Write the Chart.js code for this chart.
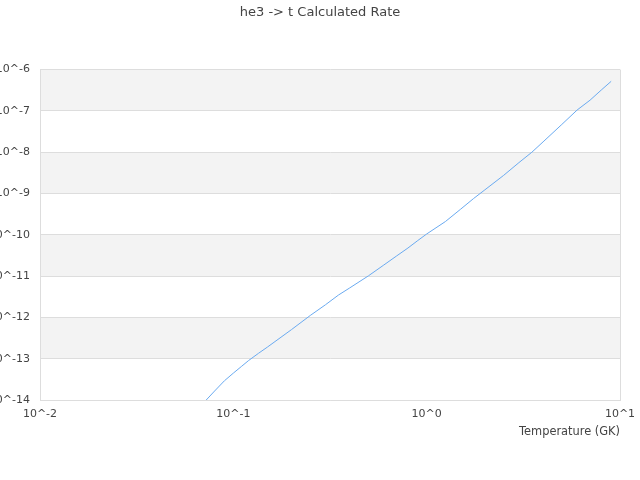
<!DOCTYPE html>
<html>
<head>
<meta charset="utf-8">
<script src="https://cdn.jsdelivr.net/npm/chart.js@4"></script>
<style>
  html, body { margin: 0; padding: 0; background: #fff; }
  #wrap { width: 640px; height: 480px; }
</style>
</head>
<body>
<div id="wrap"><canvas id="rateChart"></canvas></div>
<script>
// temperature (GK) and calculated rate
const temps = [0.06, 0.07, 0.08, 0.09, 0.1, 0.11, 0.12, 0.135, 0.15, 0.2, 0.25, 0.3, 0.35, 0.4,
  0.5, 0.6, 0.7, 0.8, 0.9, 1.0, 1.25, 1.5, 1.75, 2, 2.5, 3, 3.5, 4, 5, 6, 7, 8, 9];
const rates = [3.7e-15, 8.5e-15, 1.66e-14, 2.95e-14, 4.5e-14, 6.5e-14, 9.1e-14, 1.36e-13, 1.92e-13, 5.1e-13,
  1.12e-12, 2.04e-12, 3.5e-12, 5.2e-12, 1.02e-11, 1.86e-11, 3.1e-11, 4.8e-11, 7.3e-11,
  1.05e-10, 2.1e-10, 4.2e-10, 7.6e-10, 1.23e-9, 2.75e-9, 5.6e-9, 1.0e-8, 1.78e-8,
  4.7e-8, 1.05e-7, 1.82e-7, 3.2e-7, 5.2e-7];

const xExps = [-2, -1, 0, 1];
const yExps = [-14, -13, -12, -11, -10, -9, -8, -7, -6];
const bandExps = [-6, -8, -10, -12]; // shaded decade bands (top edge)

const gridColor = '#dddddd';
const textColor = '#444444';

Chart.defaults.font.family = '"DejaVu Sans", sans-serif';
Chart.defaults.color = textColor;

const powTicks = exps => scale => {
  scale.ticks = exps.map(e => ({ value: Math.pow(10, e) }));
};
const powLabel = v => '10^' + Math.round(Math.log10(v));

// grey bands behind every other decade
const bands = {
  id: 'bands',
  beforeDraw(chart) {
    const { ctx, chartArea: a, scales: { y } } = chart;
    ctx.save();
    ctx.fillStyle = '#f3f3f3';
    bandExps.forEach(e => {
      const top = y.getPixelForValue(Math.pow(10, e));
      const bot = y.getPixelForValue(Math.pow(10, e - 1));
      ctx.fillRect(a.left, top, a.right - a.left, bot - top);
    });
    ctx.restore();
  }
};

new Chart('rateChart', {
  type: 'line',
  data: {
    datasets: [{
      data: temps.map((t, i) => ({ x: t, y: rates[i] })),
      borderColor: '#6aaaf0',
      borderWidth: 1,
      pointRadius: 0,
      fill: false
    }]
  },
  options: {
    responsive: true,
    maintainAspectRatio: false,
    animation: false,
    layout: { padding: { left: 0, right: 0, top: 0, bottom: 41 } },
    scales: {
      x: {
        type: 'logarithmic',
        min: 0.01,
        max: 10,
        afterBuildTicks: powTicks(xExps),
        // keep a 20px right margin without shifting the page title
        afterFit: s => { s.paddingLeft = 0; s.paddingRight = 20; },
        ticks: { callback: powLabel, padding: 7, maxRotation: 0, font: { size: 11 } },
        grid: {
          drawTicks: false,
          color: c => (c.tick && c.tick.value === 10) ? gridColor : 'transparent'
        },
        border: { color: gridColor },
        title: {
          display: true,
          text: 'Temperature (GK)',
          align: 'end',
          font: { size: 11.4 },
          padding: { top: -2, bottom: 0 }
        }
      },
      y: {
        type: 'logarithmic',
        min: 1e-14,
        max: 1e-6,
        afterBuildTicks: powTicks(yExps),
        afterFit: s => { s.width = 40; s.paddingTop = 0; s.paddingBottom = 0; },
        ticks: { callback: powLabel, padding: 10, font: { size: 11 } },
        grid: { drawTicks: false, color: gridColor },
        border: { color: gridColor }
      }
    },
    plugins: {
      legend: { display: false },
      tooltip: { enabled: false },
      title: {
        display: true,
        text: 'he3 -> t Calculated Rate',
        font: { size: 13, weight: 'normal' },
        color: textColor,
        padding: { top: 5, bottom: 49 }
      }
    }
  },
  plugins: [bands]
});
</script>
</body>
</html>
